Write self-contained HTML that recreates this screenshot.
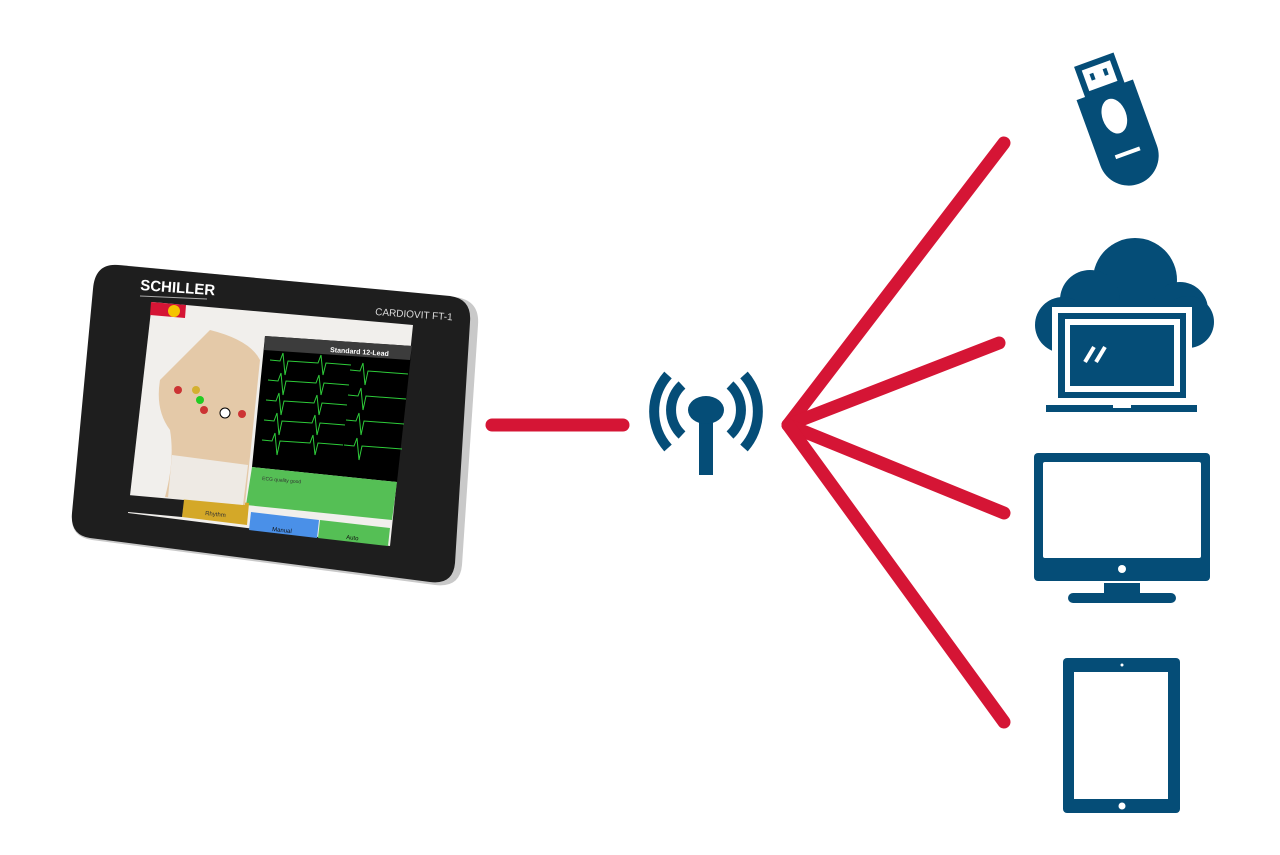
<!DOCTYPE html>
<html><head><meta charset="utf-8"><style>
html,body{margin:0;padding:0;background:#fff;}
svg{display:block;}
text{font-family:"Liberation Sans",sans-serif;}
</style></head><body>
<svg width="1280" height="855" viewBox="0 0 1280 855" xmlns="http://www.w3.org/2000/svg">
<g stroke="#d51535" stroke-width="13" stroke-linecap="round" fill="none">
<line x1="492" y1="425" x2="623" y2="425"/>
<line x1="788" y1="425" x2="1004" y2="143"/>
<line x1="788" y1="425" x2="999" y2="343"/>
<line x1="788" y1="425" x2="1004" y2="513"/>
<line x1="788" y1="425" x2="1004" y2="722"/>
</g>
<g fill="#054d77">
<rect x="699" y="410" width="14" height="65"/>
<ellipse cx="706" cy="410" rx="18" ry="14"/>
</g>
<g stroke="#054d77" stroke-width="10" fill="none">
<path d="M682,385 A34,34 0 0,0 682,435"/>
<path d="M730,385 A34,34 0 0,1 730,435"/>
<path d="M668,375 A55,55 0 0,0 668,448"/>
<path d="M744,375 A55,55 0 0,1 744,448"/>
</g>
<!-- USB -->
<g transform="translate(1115,118) rotate(-20)" fill="#054d77">
<rect x="-21" y="-62" width="42" height="34"/>
<rect x="-15" y="-56" width="30" height="22" fill="#fff"/>
<rect x="-9" y="-50" width="4" height="7"/>
<rect x="5" y="-50" width="4" height="7"/>
<path d="M-30,-30 h60 v70 a30,30 0 0,1 -60,0z"/>
<ellipse cx="0" cy="-2" rx="12" ry="18" fill="#fff"/>
<rect x="-13" y="35" width="26" height="4" fill="#fff"/>
</g>
<!-- cloud laptop -->
<g fill="#054d77">
<circle cx="1135" cy="280" r="42"/>
<circle cx="1090" cy="300" r="30"/>
<circle cx="1180" cy="310" r="28"/>
<circle cx="1063" cy="325" r="28"/>
<circle cx="1188" cy="322" r="26"/>
<rect x="1065" y="300" width="125" height="45"/>
</g>
<rect x="1052" y="307" width="140" height="93" fill="#fff"/>
<rect x="1058" y="313" width="128" height="85" fill="#054d77"/>
<rect x="1065" y="319" width="115" height="73" fill="#fff"/>
<rect x="1070" y="325" width="104" height="61" fill="#054d77"/>
<g stroke="#fff" stroke-width="4"><line x1="1085" y1="362" x2="1094" y2="347"/><line x1="1096" y1="362" x2="1105" y2="347"/></g>
<rect x="1046" y="405" width="151" height="7" fill="#054d77"/>
<rect x="1113" y="405" width="18" height="3" fill="#fff"/>
<!-- monitor -->
<rect x="1034" y="453" width="176" height="128" rx="4" fill="#054d77"/>
<rect x="1043" y="462" width="158" height="96" rx="2" fill="#fff"/>
<circle cx="1122" cy="569" r="4" fill="#fff"/>
<rect x="1104" y="583" width="36" height="12" fill="#054d77"/>
<rect x="1068" y="593" width="108" height="10" rx="5" fill="#054d77"/>
<!-- tablet -->
<rect x="1063" y="658" width="117" height="155" rx="4" fill="#054d77"/>
<rect x="1074" y="672" width="94" height="127" fill="#fff"/>
<circle cx="1122" cy="665" r="1.5" fill="#fff"/>
<circle cx="1122" cy="806" r="3.5" fill="#fff"/>
<!-- device -->
<path d="M120,265 L455,297 Q480,300 478,325 L462,565 Q460,588 435,585 L92,540 Q70,537 72,515 L94,290 Q97,263 120,265Z" fill="#c9c9c9"/>
<path d="M118,265 L450,296 Q472,299 470,322 L455,563 Q453,585 430,582 L90,538 Q70,535 72,513 L93,289 Q95,263 118,265Z" fill="#1e1e1e"/>
<text x="140" y="290" fill="#fff" font-size="15" font-weight="bold" transform="rotate(4 140 290)">SCHILLER</text>
<line x1="140" y1="296" x2="207" y2="299" stroke="#aaa" stroke-width="1"/>
<text x="375" y="315" fill="#ddd" font-size="10" transform="rotate(4 375 315)">CARDIOVIT FT-1</text>
<g>
<path d="M152,302 L413,325 L390,546 L128,513Z" fill="#f1efec"/>
<path d="M151,302 L186,305 L185,318 L150,315Z" fill="#d51535"/>
<circle cx="174" cy="311" r="6" fill="#f5c400"/>
<path d="M265,336 L412,346 L397,482 L252,467Z" fill="#000"/>
<path d="M265,336 L412,346 L410,360 L264,350Z" fill="#3c3c3c"/>
<text x="330" y="352" fill="#fff" font-size="7" font-weight="bold" transform="rotate(4 330 352)">Standard 12-Lead</text>
<g stroke="#2ecc3a" stroke-width="1" fill="none">
<path d="M270,360 l10,1 l3,-8 l2,22 l3,-14 l30,2 l3,-8 l2,20 l3,-12 l25,2"/>
<path d="M268,380 l10,1 l3,-8 l2,22 l3,-14 l30,2 l3,-8 l2,20 l3,-12 l25,2"/>
<path d="M266,400 l10,1 l3,-8 l2,22 l3,-14 l30,2 l3,-8 l2,20 l3,-12 l25,2"/>
<path d="M264,420 l10,1 l3,-8 l2,22 l3,-14 l30,2 l3,-8 l2,20 l3,-12 l25,2"/>
<path d="M262,440 l10,1 l3,-8 l2,22 l3,-14 l30,2 l3,-8 l2,20 l3,-12 l25,2"/>
<path d="M350,370 l10,1 l3,-8 l2,22 l3,-14 l40,3"/>
<path d="M348,395 l10,1 l3,-8 l2,22 l3,-14 l40,3"/>
<path d="M346,420 l10,1 l3,-8 l2,22 l3,-14 l40,3"/>
<path d="M344,445 l10,1 l3,-8 l2,22 l3,-14 l40,3"/>
</g>
<path d="M252,467 L397,482 L392,520 L246,505Z" fill="#55bf55"/>
<text x="262" y="480" fill="#333" font-size="5" transform="rotate(5 262 480)">ECG quality good</text>
<path d="M184,495 L249,503 L247,525 L182,517Z" fill="#d4a828"/>
<path d="M251,512 L319,520 L317,538 L249,530Z" fill="#4a90e8"/>
<path d="M320,520 L390,528 L388,546 L318,538Z" fill="#55bf55"/>
<text x="205" y="515" fill="#333" font-size="6" transform="rotate(6 205 515)">Rhythm</text>
<text x="272" y="531" fill="#111" font-size="6" transform="rotate(6 272 531)">Manual</text>
<text x="346" y="539" fill="#111" font-size="6" transform="rotate(6 346 539)">Auto</text>
<path d="M128,495 L184,500 L182,517 L128,512Z" fill="#1e1e1e"/>
<path d="M210,330 Q250,340 260,360 L245,505 L165,497 Q175,460 170,430 Q155,410 160,380 Q190,350 210,330Z" fill="#e4c9a8"/>
<path d="M172,455 L248,465 L243,505 L168,498Z" fill="#eeeae4"/>
<circle cx="178" cy="390" r="4" fill="#c33"/><circle cx="196" cy="390" r="4" fill="#d4b030"/>
<circle cx="200" cy="400" r="4" fill="#2c2"/><circle cx="204" cy="410" r="4" fill="#c33"/>
<circle cx="225" cy="413" r="5" fill="#fff" stroke="#000"/><circle cx="242" cy="414" r="4" fill="#c33"/>
</g>
</svg>
</body></html>
